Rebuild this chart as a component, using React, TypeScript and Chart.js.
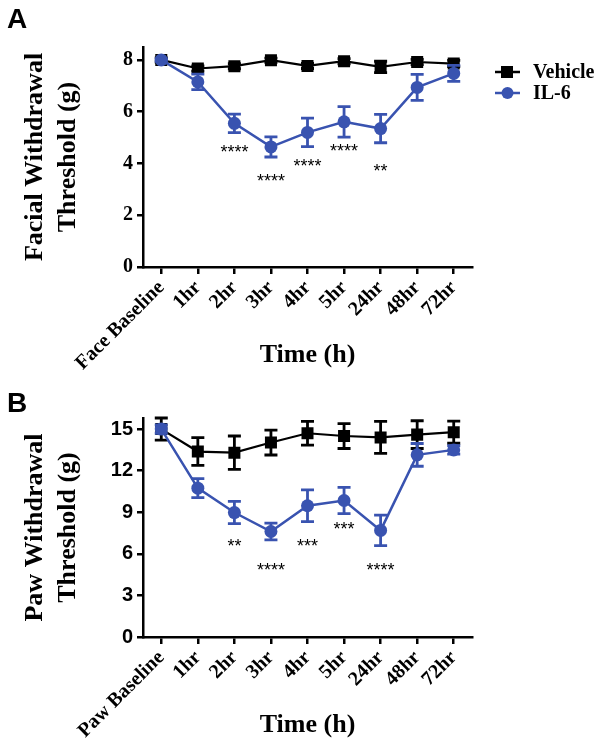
import React, { useEffect, useRef } from "react";
import { Chart, registerables } from "chart.js";

Chart.register(...registerables);

const faceCategories = ["Face Baseline", "1hr", "2hr", "3hr", "4hr", "5hr", "24hr", "48hr", "72hr"];
const pawCategories = ["Paw Baseline", "1hr", "2hr", "3hr", "4hr", "5hr", "24hr", "48hr", "72hr"];

const vehicleFace = [8.0, 7.67, 7.76, 7.99, 7.77, 7.95, 7.73, 7.92, 7.86];
const vehicleFaceErr = [0.08, 0.1, 0.1, 0.08, 0.1, 0.1, 0.22, 0.1, 0.12];
const il6Face = [8.0, 7.15, 5.55, 4.64, 5.2, 5.61, 5.35, 6.94, 7.48];
const il6FaceErr = [0.05, 0.3, 0.36, 0.39, 0.55, 0.59, 0.55, 0.5, 0.31];
const faceStars = ["", "", "****", "****", "****", "****", "**", "", ""];
const faceStarY = [null, null, 4.4, 3.3, 3.85, 4.45, 3.65, null, null];

const vehiclePaw = [15.0, 13.38, 13.3, 14.03, 14.7, 14.5, 14.4, 14.6, 14.78];
const vehiclePawErr = [0.8, 1.0, 1.2, 0.9, 0.85, 0.9, 1.15, 1.0, 0.8];
const il6Paw = [15.0, 10.74, 8.98, 7.61, 9.47, 9.85, 7.69, 13.14, 13.5];
const il6PawErr = [0.3, 0.68, 0.8, 0.6, 1.14, 0.95, 1.1, 0.82, 0.3];
const pawStars = ["", "", "**", "****", "***", "***", "****", "", ""];
const pawStarY = [null, null, 6.5, 4.75, 6.5, 7.7, 4.75, null, null];

const BLUE = "#3953b0";
const BLACK = "#000000";
const SERIF = "'Liberation Serif', 'Times New Roman', serif";
const SANS = "'Liberation Sans', Arial, sans-serif";

const errorBarPlugin = {
  id: "errorBars",
  beforeDatasetDraw(chart: any, args: any) {
    const ds: any = chart.data.datasets[args.index];
    const errs: number[] = ds.errors;
    if (!errs) return;
    const ctx = chart.ctx;
    const yScale = chart.scales.y;
    ctx.save();
    ctx.strokeStyle = ds.borderColor;
    ctx.lineWidth = 2.8;
    args.meta.data.forEach((el: any, i: number) => {
      const v = ds.data[i];
      const e = errs[i];
      const x = el.x;
      const yt = yScale.getPixelForValue(v + e);
      const yb = yScale.getPixelForValue(v - e);
      ctx.beginPath();
      ctx.moveTo(x, yt);
      ctx.lineTo(x, yb);
      ctx.moveTo(x - 6.5, yt);
      ctx.lineTo(x + 6.5, yt);
      ctx.moveTo(x - 6.5, yb);
      ctx.lineTo(x + 6.5, yb);
      ctx.stroke();
    });
    ctx.restore();
  },
};

const extrasPlugin = {
  id: "extras",
  afterDraw(chart: any, _args: any, opts: any) {
    const ctx = chart.ctx;
    const xs = chart.scales.x;
    const ys = chart.scales.y;
    ctx.save();
    // significance stars
    ctx.fillStyle = "#000";
    ctx.font = `18px ${SANS}`;
    ctx.textAlign = "center";
    ctx.textBaseline = "middle";
    (opts.stars as string[]).forEach((s, i) => {
      const yv = opts.starY[i];
      if (!s || yv == null) return;
      ctx.fillText(s, xs.getPixelForValue(i), ys.getPixelForValue(yv));
    });
    // panel letter
    ctx.font = `bold 28px ${SANS}`;
    ctx.textAlign = "left";
    ctx.textBaseline = "alphabetic";
    ctx.fillText(opts.letter, 7, opts.letterY);
    // legend
    if (opts.legend) {
      const items = [
        { label: "Vehicle", color: BLACK, shape: "rect", y: 72 },
        { label: "IL-6", color: BLUE, shape: "circle", y: 93 },
      ];
      items.forEach((it) => {
        ctx.strokeStyle = it.color;
        ctx.fillStyle = it.color;
        ctx.lineWidth = 2.5;
        ctx.beginPath();
        ctx.moveTo(495, it.y);
        ctx.lineTo(520, it.y);
        ctx.stroke();
        if (it.shape === "rect") {
          ctx.fillRect(507 - 6, it.y - 6, 12, 12);
        } else {
          ctx.beginPath();
          ctx.arc(507.5, it.y, 6, 0, Math.PI * 2);
          ctx.fill();
        }
        ctx.fillStyle = "#000";
        ctx.font = `bold 20px ${SERIF}`;
        ctx.textBaseline = "middle";
        ctx.fillText(it.label, 533, it.y + 1);
      });
    }
    ctx.restore();
  },
};

function makeConfig(p: {
  categories: string[];
  vehicle: number[];
  vehicleErr: number[];
  il6: number[];
  il6Err: number[];
  yMax: number;
  step: number;
  yTitle: string[];
  tickFont: string;
  padTop: number;
  xHeight: number;
  xTitlePad: number;
  stars: string[];
  starY: (number | null)[];
  letter: string;
  letterY: number;
  legend: boolean;
}): any {
  return {
    type: "line",
    data: {
      labels: p.categories,
      datasets: [
        {
          label: "Vehicle",
          data: p.vehicle,
          errors: p.vehicleErr,
          borderColor: BLACK,
          backgroundColor: BLACK,
          borderWidth: 2.2,
          pointStyle: "rect",
          pointRadius: 8.5,
          pointBorderWidth: 0,
          order: 1,
        },
        {
          label: "IL-6",
          data: p.il6,
          errors: p.il6Err,
          borderColor: BLUE,
          backgroundColor: BLUE,
          borderWidth: 2.5,
          pointStyle: "circle",
          pointRadius: 6.5,
          pointBorderWidth: 0,
          order: 0,
        },
      ],
    },
    options: {
      responsive: false,
      animation: false,
      layout: { padding: { top: p.padTop, right: 132, left: 0, bottom: 0 } },
      plugins: {
        legend: { display: false },
        tooltip: { enabled: false },
        extras: {
          stars: p.stars,
          starY: p.starY,
          letter: p.letter,
          letterY: p.letterY,
          legend: p.legend,
        },
      },
      scales: {
        x: {
          type: "category",
          offset: true,
          afterFit: (s: any) => {
            s.height = p.xHeight;
          },
          border: { display: true, color: "#000", width: 2.5 },
          grid: {
            display: true,
            offset: false,
            drawOnChartArea: false,
            drawTicks: true,
            tickLength: 7,
            color: "#000",
            lineWidth: 2.5,
          },
          ticks: {
            autoSkip: false,
            minRotation: 45,
            maxRotation: 45,
            padding: 2,
            color: "#000",
            font: { family: SERIF, size: 20, weight: "bold" },
          },
          title: {
            display: true,
            text: "Time (h)",
            color: "#000",
            font: { family: SERIF, size: 26, weight: "bold", lineHeight: 1.2 },
            padding: { top: 0, bottom: p.xTitlePad },
          },
        },
        y: {
          min: 0,
          max: p.yMax,
          afterFit: (s: any) => {
            s.width = 143;
          },
          border: { display: true, color: "#000", width: 2.5 },
          grid: {
            display: true,
            drawOnChartArea: false,
            drawTicks: true,
            tickLength: 6,
            color: "#000",
            lineWidth: 2.5,
          },
          ticks: {
            stepSize: p.step,
            includeBounds: false,
            padding: 4,
            color: "#000",
            font: { family: p.tickFont, size: 20, weight: "bold" },
          },
          title: {
            display: true,
            text: p.yTitle,
            color: "#000",
            font: { family: SERIF, size: 26, weight: "bold", lineHeight: 1.27 },
            padding: { top: 18.5, bottom: 0 },
          },
        },
      },
    },
    plugins: [errorBarPlugin, extrasPlugin],
  };
}

function ChartCanvas({ config }: { config: any }) {
  const ref = useRef<HTMLCanvasElement | null>(null);
  useEffect(() => {
    if (!ref.current) return;
    const chart = new Chart(ref.current, config);
    return () => chart.destroy();
  }, [config]);
  return <canvas ref={ref} width={604} height={375} style={{ display: "block", width: 604, height: 375 }} />;
}

const topConfig = makeConfig({
  categories: faceCategories,
  vehicle: vehicleFace,
  vehicleErr: vehicleFaceErr,
  il6: il6Face,
  il6Err: il6FaceErr,
  yMax: 8.5,
  step: 2,
  yTitle: ["Facial Withdrawal", "Threshold (g)"],
  tickFont: SERIF,
  padTop: 47,
  xHeight: 108,
  xTitlePad: 4,
  stars: faceStars,
  starY: faceStarY,
  letter: "A",
  letterY: 28,
  legend: true,
});

const bottomConfig = makeConfig({
  categories: pawCategories,
  vehicle: vehiclePaw,
  vehicleErr: vehiclePawErr,
  il6: il6Paw,
  il6Err: il6PawErr,
  yMax: 15.8,
  step: 3,
  yTitle: ["Paw Withdrawal", "Threshold (g)"],
  tickFont: SANS,
  padTop: 43,
  xHeight: 113,
  xTitlePad: 9,
  stars: pawStars,
  starY: pawStarY,
  letter: "B",
  letterY: 37,
  legend: false,
});

export default function App() {
  return (
    <div style={{ position: "absolute", left: 0, top: 0, width: 604, height: 750, background: "#fff" }}>
      <ChartCanvas config={topConfig} />
      <ChartCanvas config={bottomConfig} />
    </div>
  );
}
